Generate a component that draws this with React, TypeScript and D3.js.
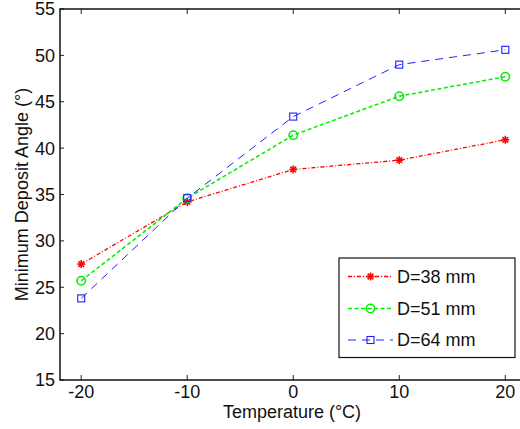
import React from "react";
import * as d3 from "d3";

const temperatures = [-20, -10, 0, 10, 20];
const d38 = [27.5, 34.2, 37.7, 38.7, 40.9];
const d51 = [25.7, 34.6, 41.4, 45.6, 47.7];
const d64 = [23.8, 34.6, 43.4, 49.0, 50.6];
const seriesNames = ["D=38 mm", "D=51 mm", "D=64 mm"];
const xTicks = [-20, -10, 0, 10, 20];
const yTicks = [15, 20, 25, 30, 35, 40, 45, 50, 55];

const W = 520;
const H = 429;
const left = 60;
const top = 9;
const bottom = 380;

const x = d3.scaleLinear().domain([-22, 22]).range([left, 526.5]);
const y = d3.scaleLinear().domain([15, 55]).range([bottom, top]);

const series = [
  { name: seriesNames[0], values: d38, color: "#ff0000", dash: "4,2,1,2", width: 1.3, marker: "star" },
  { name: seriesNames[1], values: d51, color: "#00ee00", dash: "4,2.5", width: 1.5, marker: "circle" },
  { name: seriesNames[2], values: d64, color: "#2020ff", dash: "8,6", width: 1, marker: "square" },
];

function Marker({ type, cx, cy, color }: { type: string; cx: number; cy: number; color: string }) {
  if (type === "circle") {
    return <circle cx={cx} cy={cy} r={4.2} fill="none" stroke={color} strokeWidth={1.5} />;
  }
  if (type === "square") {
    return <rect x={cx - 3.5} y={cy - 3.5} width={7} height={7} fill="none" stroke={color} strokeWidth={1.1} />;
  }
  const r = 4;
  const d = r * Math.SQRT1_2;
  return (
    <g stroke={color} strokeWidth={1.6}>
      <line x1={cx - r} y1={cy} x2={cx + r} y2={cy} />
      <line x1={cx} y1={cy - r} x2={cx} y2={cy + r} />
      <line x1={cx - d} y1={cy - d} x2={cx + d} y2={cy + d} />
      <line x1={cx - d} y1={cy + d} x2={cx + d} y2={cy - d} />
    </g>
  );
}

export default function App() {
  const line = d3
    .line<number>()
    .x((_, i) => x(temperatures[i]))
    .y((v) => y(v));
  const font = "Liberation Sans, Arial, sans-serif";
  const legendX = 339;
  const legendY = 258;
  const rowY = [276.5, 308.5, 340];
  return (
    <svg
      width={W}
      height={H}
      style={{ position: "absolute", left: 0, top: 0, background: "#fff" }}
      fontFamily={font}
    >
      <rect x={0} y={0} width={W} height={H} fill="#fff" />
      {/* ticks */}
      {xTicks.map((t) => (
        <g key={"xt" + t}>
          <line x1={x(t)} x2={x(t)} y1={bottom} y2={bottom - 5} stroke="#222" strokeWidth={1} />
          <line x1={x(t)} x2={x(t)} y1={top} y2={top + 5} stroke="#222" strokeWidth={1} />
          <text x={x(t)} y={398} textAnchor="middle" fontSize={18} fill="#111">
            {t}
          </text>
        </g>
      ))}
      {yTicks.map((t) => (
        <g key={"yt" + t}>
          <line x1={left} x2={left + 4} y1={y(t)} y2={y(t)} stroke="#222" strokeWidth={1} />
          <text x={55} y={y(t)} dy="0.36em" textAnchor="end" fontSize={18} fill="#111">
            {t}
          </text>
        </g>
      ))}
      {/* series */}
      {series.map((s) => (
        <g key={s.name}>
          <path d={line(s.values) || ""} fill="none" stroke={s.color} strokeWidth={s.width} strokeDasharray={s.dash} />
          {s.values.map((v, i) => (
            <Marker key={i} type={s.marker} cx={x(temperatures[i])} cy={y(v)} color={s.color} />
          ))}
        </g>
      ))}
      {/* frame */}
      <rect x={left} y={top} width={530 - left} height={bottom - top} fill="none" stroke="#111" strokeWidth={1.5} />
      {/* axis labels */}
      <text x={292} y={418} textAnchor="middle" fontSize={18} fill="#111">
        Temperature (°C)
      </text>
      <text
        transform={`translate(28,${(top + bottom) / 2}) rotate(-90)`}
        textAnchor="middle"
        fontSize={18}
        fill="#111"
      >
        Minimum Deposit Angle (°)
      </text>
      {/* legend */}
      <rect x={legendX} y={legendY} width={176} height={99.5} fill="#fff" stroke="#111" strokeWidth={1.2} />
      {series.map((s, i) => (
        <g key={"lg" + i}>
          <line x1={348} x2={393} y1={rowY[i]} y2={rowY[i]} stroke={s.color} strokeWidth={s.width} strokeDasharray={s.dash} />
          <Marker type={s.marker} cx={370.5} cy={rowY[i]} color={s.color} />
          <text x={397} y={rowY[i]} dy="0.36em" fontSize={18} fill="#111">
            {s.name}
          </text>
        </g>
      ))}
    </svg>
  );
}
